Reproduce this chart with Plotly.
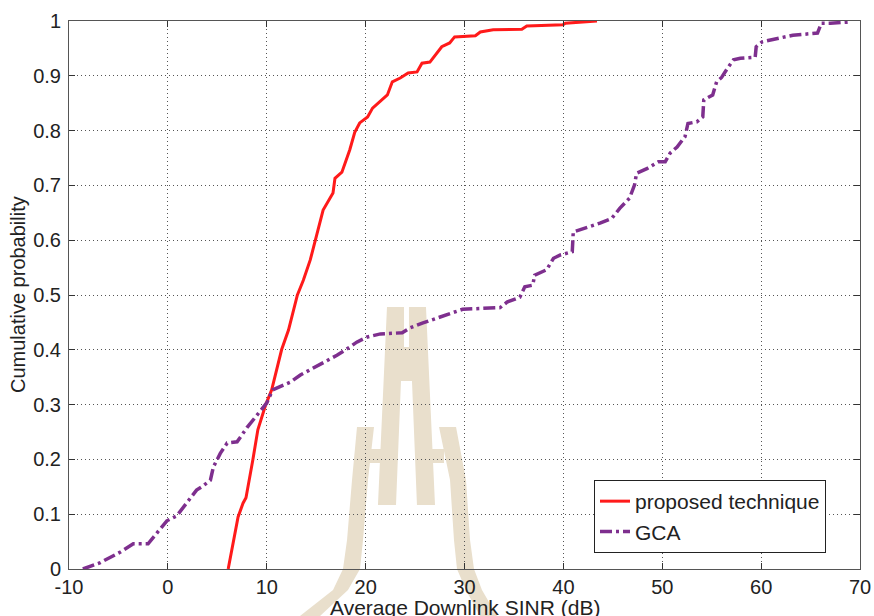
import plotly.graph_objects as go

# ---------------- data ----------------
proposed_x = [6.1, 6.6, 7.1, 7.6, 7.9, 8.6, 9.1, 9.9, 10.5, 11.5, 12.2, 13.1, 13.7, 14.4,
              14.9, 15.7, 16.7, 16.9, 17.6, 18.4, 18.9, 19.4, 20.2, 20.7, 22.2, 22.7, 23.5,
              24.3, 25.2, 25.7, 26.5, 27.7, 28.5, 29.0, 31.1, 31.6, 32.9, 35.8, 36.3, 39.96,
              40.2, 43.4]
proposed_y = [0.0, 0.05, 0.095, 0.12, 0.13, 0.2, 0.254, 0.3, 0.327, 0.4, 0.436, 0.5, 0.527,
              0.564, 0.6, 0.655, 0.686, 0.713, 0.724, 0.765, 0.797, 0.814, 0.825, 0.841, 0.865,
              0.889, 0.896, 0.905, 0.907, 0.923, 0.925, 0.953, 0.96, 0.971, 0.973, 0.98, 0.984,
              0.985, 0.991, 0.993, 0.996, 1.0]

gca_x = [-8.6, -6.9, -4.8, -3.5, -2.0, -1.1, -0.1, 0.9, 1.9, 2.9, 3.5, 4.3, 4.6, 5.3, 6.0,
         7.0, 8.0, 9.0, 10.0, 10.6, 12.4, 13.4, 14.7, 15.7, 17.1, 18.4, 19.1, 20.1, 21.5, 23.7,
         24.5, 25.8, 27.2, 28.5, 29.8, 33.6, 34.3, 35.6, 36.1, 36.9, 37.1, 38.3, 39.0, 39.7,
         40.9, 41.0, 42.5, 43.7, 44.9, 45.7, 46.7, 47.2, 47.4, 48.5, 49.6, 50.3, 50.8, 51.5,
         52.3, 52.6, 53.5, 54.1, 54.2, 55.1, 55.5, 56.0, 56.5, 57.2, 57.9, 59.4, 59.5, 60.1,
         61.9, 63.2, 65.7, 66.1, 67.0, 68.8]
gca_y = [0.0, 0.011, 0.031, 0.046, 0.046, 0.066, 0.088, 0.097, 0.12, 0.144, 0.151, 0.162,
         0.186, 0.211, 0.23, 0.232, 0.258, 0.28, 0.303, 0.327, 0.341, 0.354, 0.367, 0.376,
         0.39, 0.405, 0.414, 0.423, 0.429, 0.431, 0.44, 0.449, 0.458, 0.467, 0.474, 0.477,
         0.487, 0.496, 0.515, 0.518, 0.536, 0.546, 0.567, 0.573, 0.579, 0.615, 0.624, 0.631,
         0.64, 0.658, 0.677, 0.701, 0.722, 0.731, 0.743, 0.743, 0.759, 0.77, 0.789, 0.813,
         0.816, 0.825, 0.856, 0.865, 0.889, 0.897, 0.911, 0.929, 0.932, 0.934, 0.953, 0.962,
         0.969, 0.974, 0.978, 0.996, 0.996, 0.998]

series_names = ["proposed technique", "GCA"]
x_ticks = [-10, 0, 10, 20, 30, 40, 50, 60, 70]
y_ticks = [0, 0.1, 0.2, 0.3, 0.4, 0.5, 0.6, 0.7, 0.8, 0.9, 1]
x_title = "Average Downlink SINR (dB)"
y_title = "Cumulative probability"

# ---------------- layout geometry ----------------
W, H = 874, 616
L, R, T, B = 69, 14, 21, 47
PW, PH = W - L - R, H - T - B


def paper(px, py):
    return (px - L) / PW, (H - B - py) / PH


def path_from(points):
    pts = [paper(px, py) for px, py in points]
    return "M " + " L ".join(f"{x:.4f},{y:.4f}" for x, y in pts) + " Z"


# decorative watermark (background logo), in pixel positions
wm_color = "#E9DFCC"
watermark = [
    [(387, 307), (404, 307), (404, 347), (409, 347), (409, 307), (426, 307), (435, 505),
     (417, 505), (412, 381), (401, 381), (396, 505), (378, 505)],
    [(357, 427), (352, 480), (347, 540), (343, 569), (333, 590), (300, 616),
     (320, 616), (348, 590), (360, 569), (363, 540), (368, 480), (374, 427)],
    [(456, 427), (466, 480), (470, 540), (474, 569), (482, 590), (497, 616),
     (480, 616), (466, 590), (457, 569), (454, 540), (450, 480), (439, 427)],
    [(370, 449), (386, 449), (386, 463), (370, 463)],
    [(426, 449), (444, 449), (444, 463), (426, 463)],
]
shapes = [dict(type="path", xref="paper", yref="paper", path=path_from(p),
               fillcolor=wm_color, line=dict(width=0), layer="below")
          for p in watermark]

FONT = "Liberation Sans, Arial, Helvetica, sans-serif"

fig = go.Figure()
fig.add_trace(go.Scatter(x=proposed_x, y=proposed_y, mode="lines", name=series_names[0],
                         line=dict(color="#FF1A1A", width=3)))
fig.add_trace(go.Scatter(x=gca_x, y=gca_y, mode="lines", name=series_names[1],
                         line=dict(color="#7E2F8E", width=3.5, dash="12px,4px,3px,4px")))

axis_common = dict(showline=True, mirror="ticks", linecolor="#555555", linewidth=1,
                   ticks="inside", ticklen=6, tickcolor="#333333", tickwidth=1,
                   showgrid=True, gridcolor="#555555", gridwidth=1, griddash="1px,3px",
                   zeroline=False, automargin=False, ticklabeloverflow="allow",
                   tickfont=dict(family=FONT, size=20, color="#222222"))

fig.update_xaxes(range=[-10, 70], tickvals=x_ticks, ticktext=[str(v) for v in x_ticks],
                 ticklabelstandoff=0, **axis_common)
fig.update_yaxes(range=[0, 1], tickvals=y_ticks, ticktext=[f"{v:g}" for v in y_ticks],
                 ticklabelstandoff=3, **axis_common)

fig.update_layout(
    width=W, height=H, autosize=False,
    margin=dict(l=L, r=R, t=T, b=B, pad=0, autoexpand=False),
    paper_bgcolor="white", plot_bgcolor="rgba(0,0,0,0)",
    font=dict(family=FONT, size=20, color="#222222"),
    shapes=shapes,
    showlegend=True,
    legend=dict(x=paper(826, 0)[0], y=paper(0, 553)[1], xanchor="right", yanchor="bottom",
                bgcolor="white", bordercolor="#222222", borderwidth=1,
                font=dict(family=FONT, size=21, color="#222222"),
                tracegroupgap=0, itemwidth=30),
    annotations=[
        dict(text=x_title, xref="paper", yref="paper", x=0.5, y=paper(0, 607)[1],
             xanchor="center", yanchor="middle", showarrow=False,
             font=dict(family=FONT, size=21, color="#222222")),
        dict(text=y_title, xref="paper", yref="paper", x=paper(18, 0)[0], y=0.5,
             xanchor="center", yanchor="middle", showarrow=False, textangle=-90,
             font=dict(family=FONT, size=20, color="#222222")),
    ],
)

fig.write_html("out.html", config={"responsive": False})
